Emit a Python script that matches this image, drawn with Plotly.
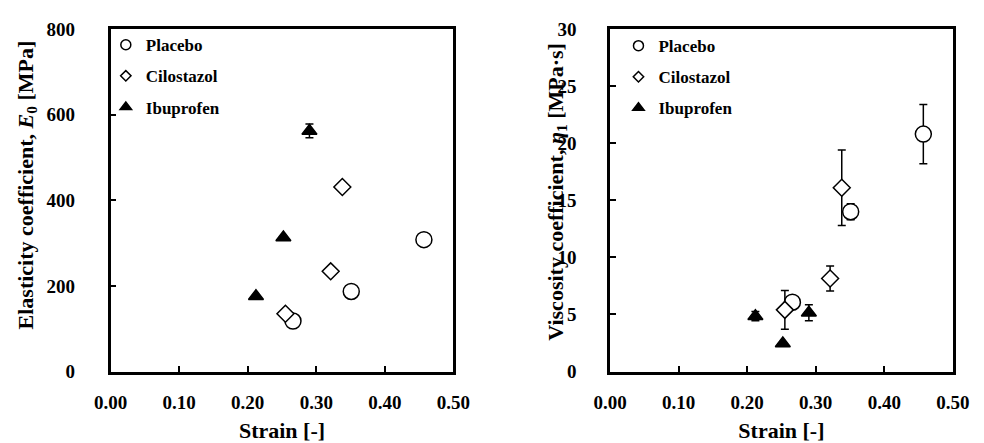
import plotly.graph_objects as go

# ---- data ----
series_names = ["Placebo", "Cilostazol", "Ibuprofen"]
strain_placebo = [0.266, 0.351, 0.457]
strain_cilostazol = [0.255, 0.321, 0.338]
strain_ibuprofen = [0.212, 0.252, 0.290]

e0_placebo = [118, 187, 308]
e0_placebo_err = [0, 0, 0]
e0_cilostazol = [135, 234, 431]
e0_cilostazol_err = [0, 0, 0]
e0_ibuprofen = [176, 313, 562]
e0_ibuprofen_err = [0, 0, 16]

eta_placebo = [6.07, 14.0, 20.8]
eta_placebo_err = [0.3, 0.7, 2.6]
eta_cilostazol = [5.4, 8.15, 16.1]
eta_cilostazol_err = [1.7, 1.1, 3.3]
eta_ibuprofen = [4.85, 2.45, 5.15]
eta_ibuprofen_err = [0.4, 0.0, 0.7]

x_ticks = [0.0, 0.1, 0.2, 0.3, 0.4, 0.5]
e0_ticks = [0, 200, 400, 600, 800]
eta_ticks = [0, 5, 10, 15, 20, 25, 30]

x_title = "Strain [-]"
e0_title = "Elasticity coefficient, <i>E</i><sub>0</sub> [MPa]"
eta_title = "Viscosity coefficient, <i>η</i><sub>1</sub> [MPa·s]"

FONT = "Liberation Serif"
styles = {
    "Placebo": dict(symbol="circle", size=16, color="white", lsize=10),
    "Cilostazol": dict(symbol="diamond", size=13, color="white", lsize=8),
    "Ibuprofen": dict(symbol="triangle-up", size=13, color="black", lsize=10),
}

fig = go.Figure()

left = {"Placebo": (strain_placebo, e0_placebo, e0_placebo_err),
        "Cilostazol": (strain_cilostazol, e0_cilostazol, e0_cilostazol_err),
        "Ibuprofen": (strain_ibuprofen, e0_ibuprofen, e0_ibuprofen_err)}
right = {"Placebo": (strain_placebo, eta_placebo, eta_placebo_err),
         "Cilostazol": (strain_cilostazol, eta_cilostazol, eta_cilostazol_err),
         "Ibuprofen": (strain_ibuprofen, eta_ibuprofen, eta_ibuprofen_err)}

for axes, data, leg in (("xy", left, "legend"), ("x2y2", right, "legend2")):
    xa = "x" if axes == "xy" else "x2"
    ya = "y" if axes == "xy" else "y2"
    for name in series_names:
        xs, ys, es = data[name]
        st = styles[name]
        fig.add_trace(go.Scatter(
            x=xs, y=ys, mode="markers", xaxis=xa, yaxis=ya, showlegend=False,
            name=name,
            marker=dict(symbol=st["symbol"], size=st["size"], color=st["color"],
                        line=dict(color="black", width=1.5)),
            error_y=dict(type="data", array=es, color="black", thickness=1.5, width=4),
        ))
    for name in series_names:
        st = styles[name]
        fig.add_trace(go.Scatter(
            x=[None], y=[None], mode="markers", xaxis=xa, yaxis=ya, name=name,
            legend=leg, legendgroup=name + leg, showlegend=True,
            marker=dict(symbol=st["symbol"], size=st["lsize"], color=st["color"],
                        line=dict(color="black", width=1.5)),
        ))

axis_common = dict(showline=True, linecolor="black", linewidth=2.5, mirror=True,
                   ticks="inside", ticklen=6, tickwidth=2, tickcolor="black",
                   showgrid=False, zeroline=False,
                   tickfont=dict(family=FONT, size=19, color="black", weight="bold"))

ydom = [1 - 379.5 / 443, 1 - 20 / 443]
legend_font = dict(family=FONT, size=17, color="black", weight="bold")
title_font = dict(family=FONT, size=22, color="black", weight="bold")
fig.update_layout(
    width=984, height=443, margin=dict(l=0, r=0, t=0, b=0),
    paper_bgcolor="white", plot_bgcolor="white",
    font=dict(family=FONT, size=17, color="black", weight="bold"),
    xaxis=dict(domain=[97 / 984, 452 / 984], range=[0, 0.5], tickvals=x_ticks,
               tickformat=".2f", anchor="y", ticklabelstandoff=12,
               title=dict(text=x_title, font=dict(size=22), standoff=14),
               **axis_common),
    yaxis=dict(domain=ydom, range=[0, 800], tickvals=e0_ticks, anchor="x",
               ticklabelstandoff=29, **axis_common),
    xaxis2=dict(domain=[614.3 / 984, 969.3 / 984], range=[0, 0.5], tickvals=x_ticks,
                tickformat=".2f", anchor="y2", ticklabelstandoff=12,
                title=dict(text=x_title, font=dict(size=22), standoff=14),
                **axis_common),
    yaxis2=dict(domain=ydom, range=[0, 30], tickvals=eta_ticks, anchor="x2",
                ticklabelstandoff=27, **axis_common),
    legend=dict(x=92 / 984, y=1 - 18 / 443, xanchor="left", yanchor="top",
                bgcolor="rgba(0,0,0,0)", tracegroupgap=6, font=legend_font),
    legend2=dict(x=623 / 984, y=1 - 19 / 443, xanchor="left", yanchor="top",
                 bgcolor="rgba(0,0,0,0)", tracegroupgap=6, font=legend_font),
    annotations=[
        dict(text=e0_title, textangle=-90, xref="paper", yref="paper",
             x=10 / 984, y=1 - 183.5 / 443, xanchor="center", yanchor="middle",
             showarrow=False, font=title_font),
        dict(text=eta_title, textangle=-90, xref="paper", yref="paper",
             x=559 / 984, y=1 - 191 / 443, xanchor="center", yanchor="middle",
             showarrow=False, font=title_font),
    ],
)

fig.write_html("out.html")
